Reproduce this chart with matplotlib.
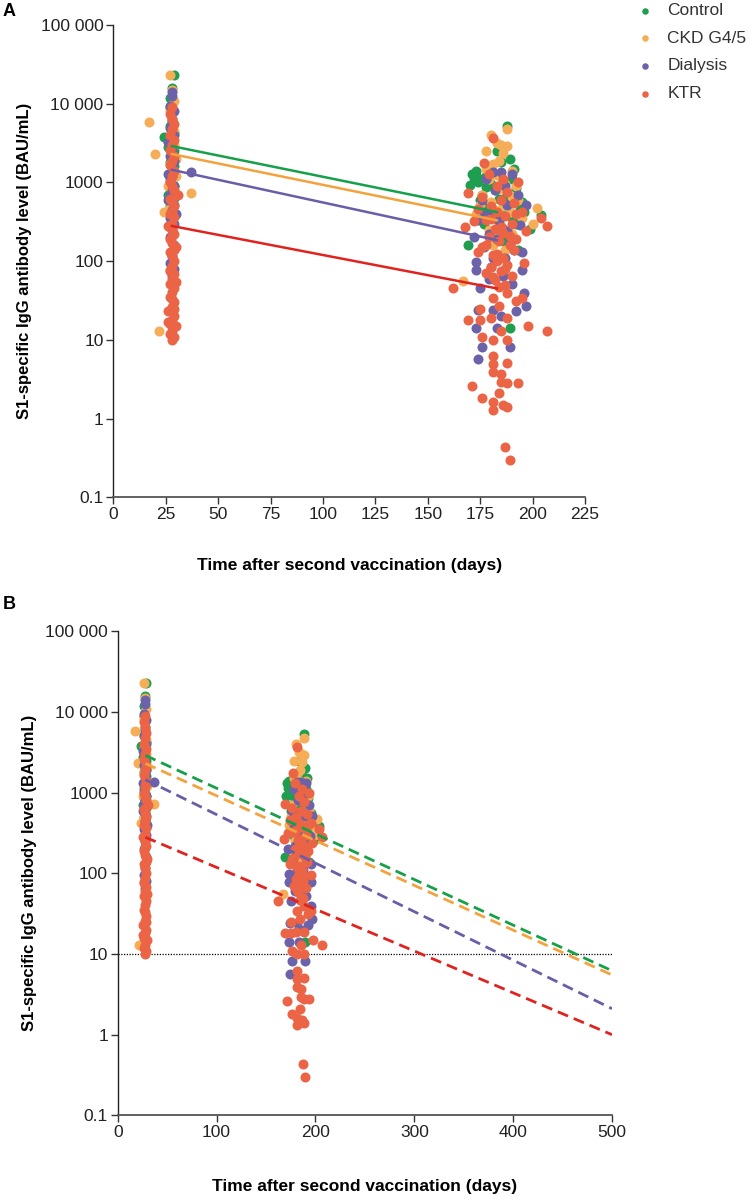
#!/usr/bin/env python
# -*- coding: utf-8 -*-
"""
S1-specific IgG after second vaccination: scatter by group with log-linear decay fits.
Panel A: observed window (solid fits); panel B: fits extrapolated to 500 days (dashed).
"""
from __future__ import annotations

import matplotlib

matplotlib.use("Agg")
import matplotlib.pyplot as plt
from matplotlib.ticker import FixedLocator, FixedFormatter, NullLocator

# ---------------------------------------------------------------- data
GROUPS = ["Control", "CKD G4/5", "Dialysis", "KTR"]

# Control
ctrl_day = [29, 28, 27, 24, 28, 27, 29, 28, 26, 29, 28, 27, 29, 28, 27, 28, 29, 27, 28, 26,
            29, 28, 27, 28, 29, 27, 28, 29, 27, 28,
            188, 189, 185, 183, 173, 191, 172, 174, 170, 195, 199, 194, 192, 204, 169, 193,
            189, 178, 180, 186, 182, 176, 184, 179, 187, 181, 190, 177, 185, 183, 188, 175,
            192, 186, 180, 196, 171, 174, 190, 184, 178, 187]
ctrl_val = [23000, 15800, 9000, 3800, 6500, 5200, 4200, 3200, 2800, 2500, 2100, 1800, 1600,
            1300, 1150, 1000, 900, 850, 760, 700, 640, 560, 500, 450, 380, 12000, 7800, 1950,
            3500, 2300,
            5300, 2000, 1800, 2500, 1400, 1500, 1130, 1130, 920, 560, 260, 450, 850, 390, 160,
            140, 14, 1200, 950, 1050, 800, 700, 620, 520, 480, 400, 350, 300, 260, 220, 700,
            600, 300, 180, 1600, 420, 1300, 1000, 1100, 1250, 880, 640]

# CKD G4/5
ckd_day = [27, 17, 20, 37, 22, 28, 29, 27, 28, 29, 27, 28, 30, 27, 29, 28, 26, 29, 27, 28,
           24, 29, 28, 27, 29, 30, 27, 28, 29, 28,
           188, 180, 183, 185, 188, 178, 186, 181, 190, 183, 179, 187, 184, 176, 190, 193,
           180, 186, 182, 189, 177, 195, 183, 202, 200, 173, 185, 179, 190, 182, 167, 181,
           187, 175, 192, 184, 178]
ckd_val = [23000, 5800, 2300, 730, 13, 15000, 11000, 8500, 6000, 4500, 3600, 2900, 2000, 1700,
           1400, 1100, 900, 800, 650, 550, 420, 380, 320, 8000, 3000, 1200, 480, 250, 700, 1900,
           4800, 4000, 3150, 3000, 2900, 2500, 2400, 1700, 1400, 1250, 1100, 950, 820, 700,
           650, 600, 560, 500, 450, 420, 380, 350, 330, 470, 300, 400, 280, 250, 220, 200,
           56, 160, 140, 520, 900, 1900, 1500]

# Dialysis
dial_day = [28, 28, 27, 29, 28, 27, 29, 26, 28, 27, 29, 28, 26, 37, 28, 27, 29, 28, 27, 26,
            29, 28, 30, 27, 29, 28, 27, 29, 28, 27, 29, 28,
            185, 190, 178, 187, 182, 193, 176, 188, 180, 197, 184, 174, 194, 186, 179, 183,
            189, 177, 195, 181, 173, 173, 195, 190, 175, 196, 197, 192, 174, 181, 183, 173,
            185, 176, 189, 174, 186, 180, 187, 179, 181, 188, 172, 184, 191, 177]
dial_val = [14000, 12500, 9500, 8000, 6000, 5000, 4000, 3300, 2700, 2200, 1900, 1600, 1300,
            1350, 1200, 1050, 900, 800, 700, 600, 520, 450, 400, 350, 300, 250, 200, 160, 115,
            95, 80, 65,
            1350, 1300, 1100, 900, 800, 700, 600, 520, 450, 515, 380, 330, 290, 260, 220, 190,
            170, 150, 130, 110, 97, 77, 77, 52, 45, 39, 27, 23, 24, 24, 14, 14, 20, 8.1, 8.1,
            5.7, 65, 85, 110, 60, 1350, 240, 200, 320, 140, 420]

# KTR
ktr_day = [28, 27, 28, 29, 28, 27, 29, 28, 27, 29, 28, 27, 29, 28, 27, 28, 29, 31, 27, 28,
           29, 28, 27, 29, 28, 26, 28, 29, 27, 28, 30, 27, 28, 29, 28, 27, 29, 28, 27, 29,
           28, 27, 29, 28, 26, 29, 28, 27, 30, 28, 27, 29, 28, 26, 29, 28, 30, 27, 29, 28,
           181, 177, 169, 168, 207, 204, 193, 188, 185, 180, 183, 187, 178, 190, 182, 186,
           179, 184, 189, 176, 191, 181, 186, 183, 188, 180, 185, 178, 190, 182, 187, 184,
           162, 181, 188, 195, 192, 184, 175, 188, 180, 175, 169, 185, 198, 207, 176, 181,
           188, 181, 181, 188, 181, 185, 185, 188, 193, 171, 184, 176, 181, 186, 188, 181,
           187, 189, 176, 183, 191, 179, 186, 174, 195, 172, 197, 192, 174, 196,
           180, 185, 189, 178, 183, 187, 181, 192]
ktr_val = [9000, 7500, 6500, 5500, 4800, 4000, 3500, 3000, 2600, 2200, 1900, 1650, 1400, 1200,
           1000, 900, 800, 700, 620, 560, 500, 440, 400, 360, 300, 280, 250, 220, 190, 170,
           150, 130, 115, 100, 88, 78, 68, 60, 52, 45, 40, 35, 30, 26, 23, 20, 18, 16, 15, 13,
           12, 11, 10, 17, 25, 33, 55, 75, 140, 210,
           3700, 1750, 730, 270, 280, 350, 1000, 760, 600, 500, 420, 380, 330, 300, 260, 230,
           200, 180, 160, 150, 140, 120, 110, 100, 90, 85, 75, 70, 65, 58, 50, 47,
           45, 34, 39, 34, 31, 27, 25, 19, 19, 18, 18, 13, 15, 13, 11, 10,
           10, 6.2, 4.9, 5.1, 3.9, 3.7, 2.9, 2.8, 2.8, 2.6, 2.1, 1.8, 1.6, 1.5, 1.4, 1.3,
           0.43, 0.30, 650, 900, 550, 1300, 1100, 460, 420, 320, 240, 190, 130, 95,
           340, 270, 210, 160, 125, 80, 62, 400]

# fitted geometric-mean decay lines (BAU/mL) at start, end of follow-up, and day 500
fit_start_day = 28
fit_obs_end_day = 183
fit_extrap_end_day = 500
fit_start_val = [2900, 2300, 1450, 280]
fit_obs_end_val = [420, 330, 185, 45]
fit_extrap_end_val = [6.2, 5.5, 2.1, 1.0]

threshold = 10

dot_colors = ["#1E9E4E", "#F5AE57", "#6B62AA", "#EB6446"]
line_colors = ["#16A04A", "#F2A33E", "#6A5EA8", "#E0231E"]

y_ticks = [0.1, 1, 10, 100, 1000, 10000, 100000]
y_labels = ["0.1", "1", "10", "100", "1000", "10 000", "100 000"]
xa_ticks = [0, 25, 50, 75, 100, 125, 150, 175, 200, 225]
xb_ticks = [0, 100, 200, 300, 400, 500]

SERIES = [(ctrl_day, ctrl_val), (ckd_day, ckd_val), (dial_day, dial_val), (ktr_day, ktr_val)]

NARROW = ["Liberation Sans Narrow", "Liberation Sans", "DejaVu Sans"]
REGULAR = ["Liberation Sans", "DejaVu Sans"]


def _style_axis(ax, xticks, xlim, tick_font):
    ax.set_yscale("log")
    ax.set_ylim(0.1, 100000)
    ax.set_xlim(*xlim)
    ax.yaxis.set_major_locator(FixedLocator(y_ticks))
    ax.yaxis.set_major_formatter(FixedFormatter(y_labels))
    ax.yaxis.set_minor_locator(NullLocator())
    ax.set_xticks(xticks)
    ax.set_xticklabels([str(t) for t in xticks])
    for side in ("top", "right"):
        ax.spines[side].set_visible(False)
    ax.spines["left"].set_color("#222222")
    ax.spines["bottom"].set_color("#555555")
    ax.spines["left"].set_linewidth(1.0)
    ax.spines["bottom"].set_linewidth(1.3)
    ax.tick_params(axis="both", direction="out", length=5, width=1.0, color="#333333",
                   labelsize=12.5, labelcolor="#222222", pad=2)
    for lab in ax.get_xticklabels() + ax.get_yticklabels():
        lab.set_family(tick_font)
    ax.set_ylabel("S1-specific IgG antibody level (BAU/mL)", fontsize=12, fontweight="bold",
                  family=REGULAR, labelpad=6)


def _scatter(ax):
    for i, (d, v) in enumerate(SERIES):
        ax.scatter(d, v, s=52, color=dot_colors[i], linewidths=0, zorder=2 + i,
                   label=GROUPS[i], clip_on=False)


def main() -> int:
    fig = plt.figure(figsize=(7.5, 11.98), dpi=100)

    # ---- panel A
    ax_a = fig.add_axes([0.151, 0.585, 0.629, 0.394])
    _scatter(ax_a)
    for i in range(4):
        ax_a.plot([fit_start_day, fit_obs_end_day], [fit_start_val[i], fit_obs_end_val[i]],
                  color=line_colors[i], lw=1.8, zorder=10)
    _style_axis(ax_a, xa_ticks, (0, 225), NARROW)
    ax_a.set_xlabel("Time after second vaccination (days)", fontsize=12.5, fontweight="bold",
                    family=NARROW, labelpad=26)
    leg = ax_a.legend(loc="upper left", bbox_to_anchor=(1.075, 1.08), frameon=False,
                      handletextpad=0.8, labelspacing=0.72, markerscale=0.65,
                      handlelength=1.0, prop={"family": REGULAR, "size": 12.5})
    for t in leg.get_texts():
        t.set_color("#333333")

    # ---- panel B
    ax_b = fig.add_axes([0.157, 0.069, 0.659, 0.404])
    _scatter(ax_b)
    ax_b.plot([0, 500], [threshold, threshold], color="black", lw=0.9, ls=(0, (1, 1.2)),
              zorder=1)
    for i in range(4):
        ax_b.plot([fit_start_day, fit_extrap_end_day], [fit_start_val[i], fit_extrap_end_val[i]],
                  color=line_colors[i], lw=2.0, ls=(0, (4, 2.2)), zorder=10)
    _style_axis(ax_b, xb_ticks, (0, 500), REGULAR)
    ax_b.set_xlabel("Time after second vaccination (days)", fontsize=12.5, fontweight="bold",
                    family=REGULAR, labelpad=28)

    fig.text(0.004, 0.990, "A", fontsize=13, fontweight="bold", family=REGULAR, va="center")
    fig.text(0.004, 0.495, "B", fontsize=13, fontweight="bold", family=REGULAR, va="center")

    fig.savefig("out.png", dpi=100)
    plt.close(fig)
    return 0


if __name__ == "__main__":
    raise SystemExit(main())
